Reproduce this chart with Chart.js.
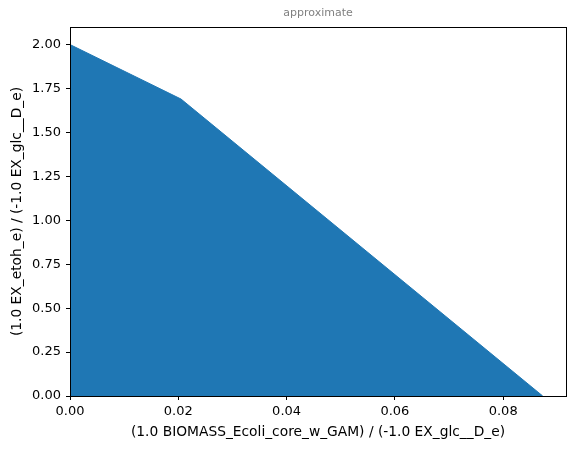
<!DOCTYPE html>
<html>
<head>
<meta charset="utf-8">
<script src="https://cdn.jsdelivr.net/npm/chart.js@4/dist/chart.umd.min.js"></script>
<style>
html,body{margin:0;padding:0;background:#fff;}
#wrap{width:576px;height:449px;}
</style>
</head>
<body>
<div id="wrap"><canvas id="c" width="576" height="449"></canvas></div>
<script>
const growthRate = [0.0, 0.0205, 0.0873];
const ethanolYield = [2.0, 1.69, 0.0];
const xTicks = [0.00, 0.02, 0.04, 0.06, 0.08];
const yTicks = [0.00, 0.25, 0.50, 0.75, 1.00, 1.25, 1.50, 1.75, 2.00];
const titleText = 'approximate';
const xLabel = '(1.0 BIOMASS_Ecoli_core_w_GAM) / (-1.0 EX_glc__D_e)';
const yLabel = '(1.0 EX_etoh_e) / (-1.0 EX_glc__D_e)';

const points = growthRate.map((x, i) => ({x: x, y: ethanolYield[i]}));

const frame = {
  id: 'frame',
  afterDatasetsDraw(chart) {
    const a = chart.chartArea, ctx = chart.ctx;
    ctx.save();
    ctx.strokeStyle = '#000';
    ctx.lineWidth = 1;
    ctx.strokeRect(Math.round(a.left) + 0.5, Math.round(a.top) + 0.5, Math.round(a.right - a.left), Math.round(a.bottom - a.top));
    ctx.restore();
  }
};

Chart.defaults.font.family = '"DejaVu Sans", sans-serif';
Chart.defaults.color = '#000';

new Chart(document.getElementById('c'), {
  type: 'line',
  data: {
    datasets: [{
      data: points,
      borderColor: '#1f77b4',
      backgroundColor: '#1f77b4',
      borderWidth: 1,
      pointRadius: 0,
      fill: 'origin',
      tension: 0
    }]
  },
  options: {
    responsive: false,
    animation: false,
    devicePixelRatio: 1,
    layout: {padding: {left: 0, right: 10, top: 0, bottom: 0}},
    plugins: {
      legend: {display: false},
      tooltip: {enabled: false},
      title: {
        display: true,
        fullSize: false,
        text: titleText,
        color: '#808080',
        font: {size: 11, weight: 'normal'},
        padding: {top: 7, bottom: 6.8}
      }
    },
    scales: {
      x: {
        type: 'linear',
        min: 0,
        max: 0.0916,
        afterBuildTicks: s => { s.ticks = xTicks.map(v => ({value: v})); },
        afterFit: s => { s.height = 53; },
        ticks: {
          font: {size: 13},
          padding: 4,
          maxRotation: 0,
          callback: v => v.toFixed(2)
        },
        grid: {drawOnChartArea: false, tickLength: 4, tickColor: '#000', color: '#000'},
        border: {color: '#000'},
        title: {display: true, text: xLabel, font: {size: 13.8}, padding: {top: 2, bottom: 8.5}}
      },
      y: {
        type: 'linear',
        min: 0,
        max: 2.1,
        afterBuildTicks: s => { s.ticks = yTicks.map(v => ({value: v})); },
        afterFit: s => { s.width = 70; },
        ticks: {
          font: {size: 13},
          padding: 5,
          callback: v => v.toFixed(2)
        },
        grid: {drawOnChartArea: false, tickLength: 4, tickColor: '#000', color: '#000'},
        border: {color: '#000'},
        title: {display: true, text: yLabel, font: {size: 13.8}, padding: {top: 9, bottom: 4}}
      }
    }
  },
  plugins: [frame]
});
</script>
</body>
</html>
